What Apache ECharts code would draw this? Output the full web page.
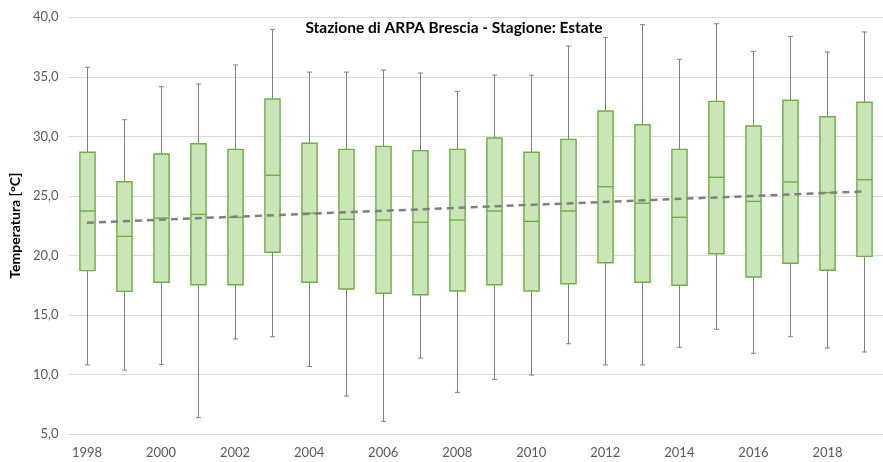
<!DOCTYPE html>
<html>
<head>
<meta charset="utf-8">
<script src="https://cdn.jsdelivr.net/npm/echarts@6/dist/echarts.min.js"></script>
<style>
  html, body { margin: 0; padding: 0; background: #fff; }
  #chart { width: 883px; height: 462px; }
</style>
</head>
<body>
<div id="chart"></div>
<script>
// Summer temperature distribution per year, ARPA Brescia station
const years = ['1998','1999','2000','2001','2002','2003','2004','2005','2006','2007','2008',
               '2009','2010','2011','2012','2013','2014','2015','2016','2017','2018','2019'];
const minima   = [10.8, 10.37, 10.85, 6.37, 12.98, 13.17, 10.68, 8.19, 6.06, 11.38, 8.5,
                  9.59, 9.95, 12.58, 10.8, 10.8, 12.28, 13.79, 11.78, 13.17, 12.22, 11.89];
const q1       = [18.72, 16.98, 17.74, 17.54, 17.54, 20.26, 17.74, 17.18, 16.82, 16.7, 17.01,
                  17.54, 17.01, 17.62, 19.39, 17.74, 17.49, 20.14, 18.19, 19.34, 18.75, 19.92];
const medians  = [23.73, 21.6, 23.14, 23.45, 23.2, 26.73, 23.54, 23.03, 22.97, 22.78, 22.97,
                  23.73, 22.86, 23.73, 25.77, 24.38, 23.2, 26.56, 24.54, 26.17, 25.27, 26.36];
const q3       = [28.66, 26.19, 28.52, 29.38, 28.91, 33.14, 29.42, 28.91, 29.16, 28.8, 28.91,
                  29.86, 28.66, 29.75, 32.13, 30.98, 28.91, 32.94, 30.87, 33.03, 31.65, 32.86];
const maxima   = [35.8, 31.4, 34.17, 34.4, 36.0, 38.99, 35.4, 35.4, 35.57, 35.32, 33.78,
                  35.15, 35.13, 37.59, 38.29, 39.38, 36.47, 39.46, 37.14, 38.4, 37.09, 38.77];
// Linear trend of the medians: values at the first and last year
const trendEnds = [22.75, 25.37];

const boxData = years.map((y, i) => [i, minima[i], q1[i], medians[i], q3[i], maxima[i]]);
const trendData = [[0, trendEnds[0]], [years.length - 1, trendEnds[1]]];

const GREEN = '#70ad47';
const FILL = '#c8e6b6';
const WHISKER = '#808080';

function renderBox(params, api) {
  const x = api.value(0);
  const pLow = api.coord([x, api.value(1)]);
  const pQ1 = api.coord([x, api.value(2)]);
  const pMed = api.coord([x, api.value(3)]);
  const pQ3 = api.coord([x, api.value(4)]);
  const pHigh = api.coord([x, api.value(5)]);
  const bw = api.size([1, 0])[0] * 0.41;
  const cx = Math.round(pMed[0]) + 0.5;
  const half = bw / 2;
  const cap = 2.5;
  const lineStyle = { stroke: WHISKER, lineWidth: 1 };
  return {
    type: 'group',
    children: [
      { type: 'line', shape: { x1: cx, y1: pQ3[1], x2: cx, y2: pHigh[1] }, style: lineStyle },
      { type: 'line', shape: { x1: cx, y1: pQ1[1], x2: cx, y2: pLow[1] }, style: lineStyle },
      { type: 'line', shape: { x1: cx - cap, y1: pHigh[1], x2: cx + cap, y2: pHigh[1] }, style: lineStyle },
      { type: 'line', shape: { x1: cx - cap, y1: pLow[1], x2: cx + cap, y2: pLow[1] }, style: lineStyle },
      { type: 'rect', shape: { x: cx - half, y: pQ3[1], width: bw, height: pQ1[1] - pQ3[1] },
        style: { fill: FILL, stroke: GREEN, lineWidth: 1.4 } },
      { type: 'line', shape: { x1: cx - half, y1: pMed[1], x2: cx + half, y2: pMed[1] },
        style: { stroke: GREEN, lineWidth: 1.4 } }
    ]
  };
}

const chart = echarts.init(document.getElementById('chart'), null, { renderer: 'canvas' });
chart.setOption({
  animation: false,
  backgroundColor: '#ffffff',
  title: {
    text: 'Stazione di ARPA Brescia - Stagione: Estate',
    left: 449, top: 15, textAlign: 'center',
    textStyle: { fontFamily: 'Lato', fontWeight: 'bold', fontSize: 15.5, color: '#000' }
  },
  grid: { left: 65, top: 17.3, bottom: 28, width: 829, containLabel: false },
  xAxis: {
    type: 'category',
    data: years,
    boundaryGap: true,
    axisLine: { show: false },
    axisTick: { show: false },
    axisLabel: { interval: 1, margin: 12, color: '#595959', fontFamily: 'Lato', fontSize: 13 },
    splitLine: { show: false }
  },
  yAxis: {
    type: 'value',
    min: 5, max: 40, interval: 5,
    name: 'Temperatura [°C]',
    nameLocation: 'middle',
    nameGap: 44,
    nameTextStyle: { fontFamily: 'Lato', fontWeight: 'bold', fontSize: 14, color: '#000' },
    axisLine: { show: false },
    axisTick: { show: false },
    axisLabel: {
      margin: 10, color: '#595959', fontFamily: 'Lato', fontSize: 13,
      formatter: v => v.toFixed(1).replace('.', ',')
    },
    splitLine: { lineStyle: { color: '#d9d9d9', width: 1 } }
  },
  series: [
    {
      type: 'custom',
      name: 'box',
      renderItem: renderBox,
      encode: { x: 0, y: [1, 2, 3, 4, 5] },
      data: boxData,
      z: 2
    },
    {
      type: 'line',
      name: 'trend',
      data: trendData,
      symbol: 'none',
      lineStyle: { color: '#7f7f7f', width: 2.5, type: [7, 5] },
      z: 3
    }
  ]
});
</script>
</body>
</html>
